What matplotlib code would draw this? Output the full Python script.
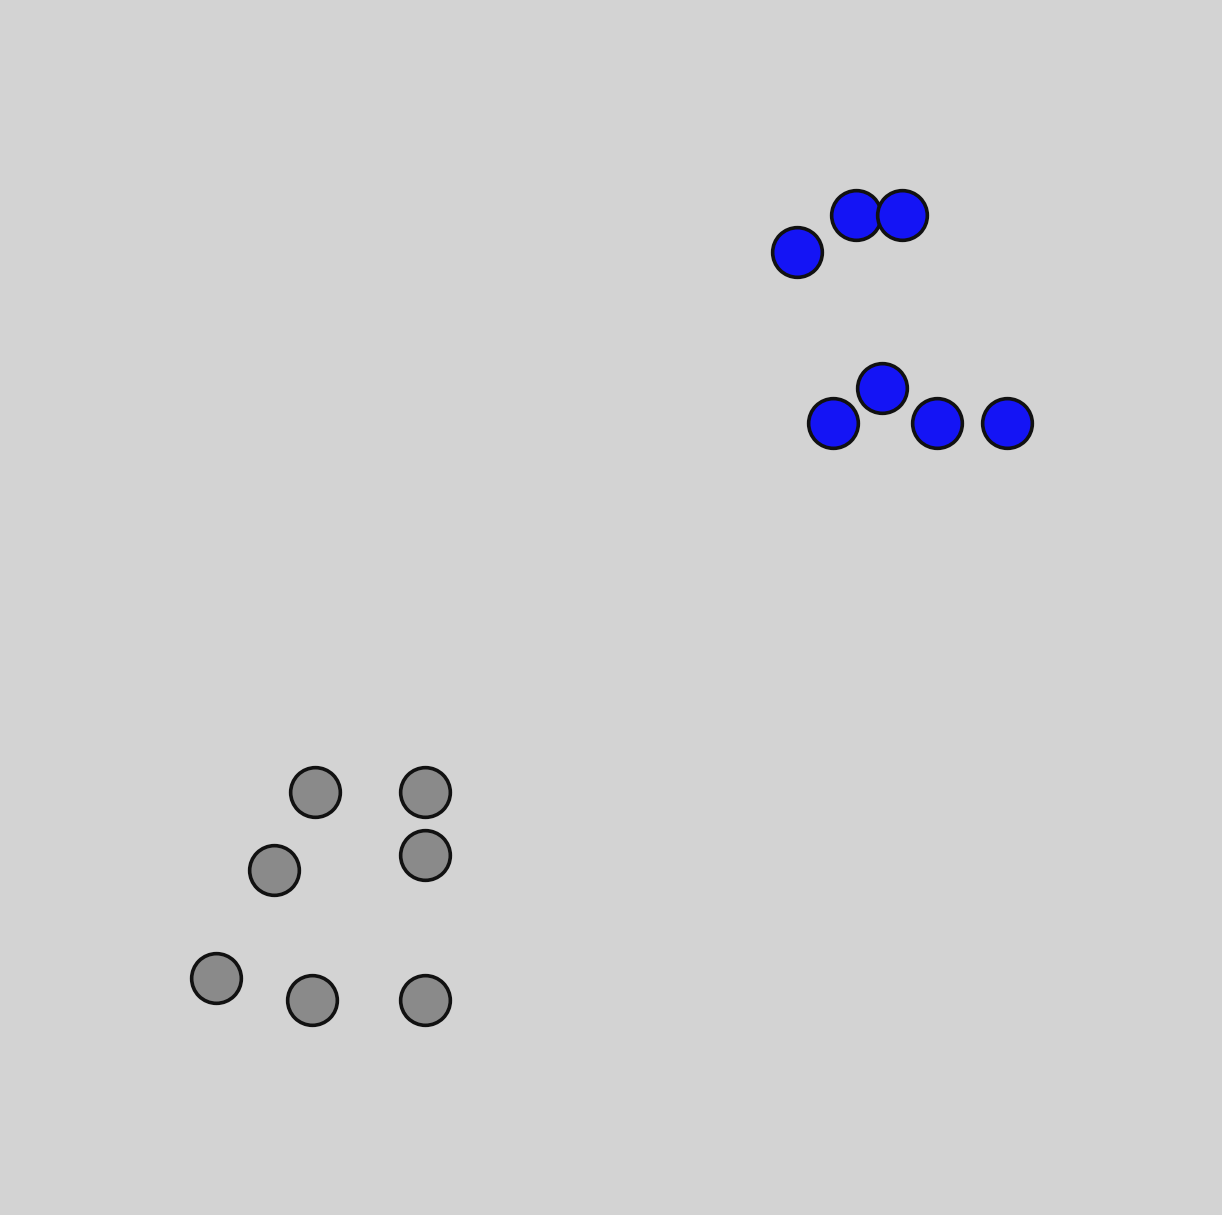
import numpy as np
import matplotlib.pyplot as plt

# posiciones de los puntos (coordenadas del lienzo)
azul_x = [797, 856, 902, 882, 833, 937, 1007]
azul_y = [252, 215, 215, 388, 423, 423, 423]

gris_x = [315, 425, 274, 425, 216, 312, 425]
gris_y = [792, 792, 870, 855, 978, 1000, 1000]

fig = plt.figure(figsize=(12.22, 12.15), dpi=100)
fig.patch.set_facecolor('#d3d3d3')
ax = fig.add_axes([0, 0, 1, 1])
ax.set_facecolor('#d3d3d3')
ax.set_xlim(0, 1222)
ax.set_ylim(1215, 0)
ax.axis('off')

# puntos azules
ax.scatter(azul_x, azul_y, s=1280, color='#1414f5', edgecolors='#111111', linewidths=2.6, zorder=3)
# puntos grises
ax.scatter(gris_x, gris_y, s=1280, color='#8a8a8a', edgecolors='#111111', linewidths=2.6, zorder=3)

fig.savefig('out.png', dpi=100, facecolor=fig.get_facecolor())
